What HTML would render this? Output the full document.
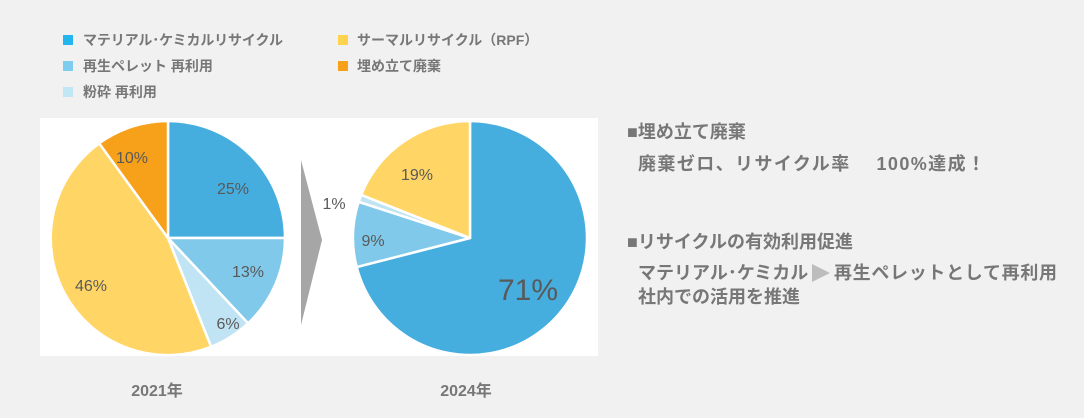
<!DOCTYPE html>
<html><head><meta charset="utf-8"><style>
body{margin:0;background:#f1f1f1;}
svg{display:block;font-family:"Liberation Sans","Noto Sans CJK JP",sans-serif;}
.t{font-weight:bold;fill:#777;}
.p{fill:#595959;font-size:16px;}
</style></head><body>
<svg width="1084" height="418" viewBox="0 0 1084 418">
<rect width="1084" height="418" fill="#f1f1f1"/>
<rect x="63" y="35" width="10" height="10" fill="#23b5ef"/>
<text x="83" y="45" class="t" font-size="14" textLength="200">マテリアル･ケミカルリサイクル</text>
<rect x="63" y="61" width="10" height="10" fill="#7fcdee"/>
<text x="83" y="71" class="t" font-size="14">再生ペレット 再利用</text>
<rect x="63" y="87" width="10" height="10" fill="#c1e6f4"/>
<text x="83" y="97" class="t" font-size="14">粉砕 再利用</text>
<rect x="338" y="35" width="10" height="10" fill="#ffd24f"/>
<text x="357" y="45" class="t" font-size="14">サーマルリサイクル（RPF）</text>
<rect x="338" y="61" width="10" height="10" fill="#f8a01a"/>
<text x="357" y="71" class="t" font-size="14">埋め立て廃棄</text>
<rect x="40" y="118" width="558" height="238" fill="#fff"/>
<g stroke="#fff" stroke-width="2.5" stroke-linejoin="round">
<path d="M168,238 L168,121 A117,117 0 0 1 285,238 Z" fill="#45aedf"/>
<path d="M168,238 L285,238 A117,117 0 0 1 248.1,323.3 Z" fill="#80c9ea"/>
<path d="M168,238 L248.1,323.3 A117,117 0 0 1 211.1,346.8 Z" fill="#c0e4f3"/>
<path d="M168,238 L211.1,346.8 A117,117 0 0 1 99.2,143.3 Z" fill="#ffd666"/>
<path d="M168,238 L99.2,143.3 A117,117 0 0 1 168,121 Z" fill="#f7a11a"/>
<path d="M470,238 L470,121 A117,117 0 1 1 356.7,267.1 Z" fill="#45aedf"/>
<path d="M470,238 L356.7,267.1 A117,117 0 0 1 358.7,201.8 Z" fill="#80c9ea"/>
<path d="M470,238 L358.7,201.8 A117,117 0 0 1 361.2,194.9 Z" fill="#c0e4f3"/>
<path d="M470,238 L361.2,194.9 A117,117 0 0 1 470,121 Z" fill="#ffd666"/>
</g>
<polygon points="301,160 322,240 301,325" fill="#a6a6a6"/>
<text x="233" y="194" class="p" text-anchor="middle">25%</text>
<text x="248" y="277" class="p" text-anchor="middle">13%</text>
<text x="228" y="329" class="p" text-anchor="middle">6%</text>
<text x="91" y="291" class="p" text-anchor="middle">46%</text>
<text x="132" y="163" class="p" text-anchor="middle">10%</text>
<text x="528" y="300" fill="#595959" font-size="30" text-anchor="middle">71%</text>
<text x="373" y="246" class="p" text-anchor="middle">9%</text>
<text x="334" y="209" class="p" text-anchor="middle">1%</text>
<text x="417" y="180" class="p" text-anchor="middle">19%</text>
<text x="157" y="396" class="t" font-size="16" text-anchor="middle">2021年</text>
<text x="466" y="396" class="t" font-size="16" text-anchor="middle">2024年</text>
<text x="627" y="138" class="t" font-size="18">■埋め立て廃棄</text>
<text x="638" y="170" class="t" font-size="18" textLength="347">廃棄ゼロ、リサイクル率　 100%達成！</text>
<text x="627" y="248" class="t" font-size="18">■リサイクルの有効利用促進</text>
<text x="638" y="279" class="t" font-size="18">マテリアル･ケミカル</text>
<polygon points="812,264 830,273 812,282" fill="#bdbdbd"/>
<text x="834" y="279" class="t" font-size="18" textLength="223">再生ペレットとして再利用</text>
<text x="638" y="303" class="t" font-size="18">社内での活用を推進</text>
</svg>
</body></html>
